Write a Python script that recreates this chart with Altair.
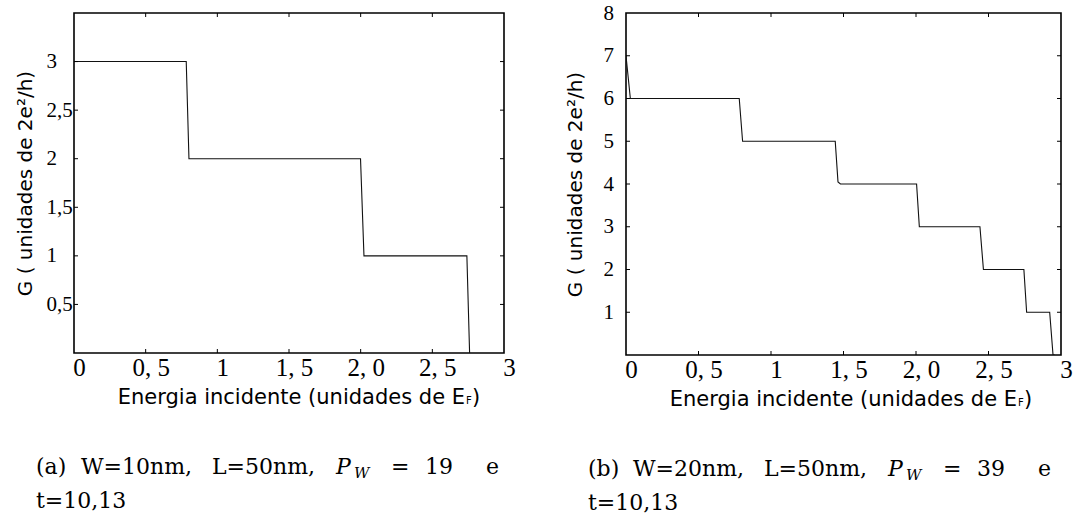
import altair as alt
import pandas as pd

# ---------------- data ----------------
# panel (a): W=10nm
a_energy = [0.0, 0.783, 0.802, 1.999, 2.023, 2.741, 2.760]
a_G = [3, 3, 2, 2, 1, 1, 0]
# panel (b): W=20nm
b_energy = [0.0, 0.03, 0.781, 0.804, 1.443, 1.462, 1.479, 2.004, 2.023,
            2.441, 2.465, 2.744, 2.763, 2.922, 2.945, 2.957]
b_G = [7, 6, 6, 5, 5, 4.05, 4, 4, 3, 3, 2, 2, 1, 1, 0, 0]

x_ticks = [0, 0.5, 1, 1.5, 2, 2.5, 3]
x_tick_labels = ["0", "0, 5", "1", "1, 5", "2, 0", "2, 5", "3"]
a_y_ticks = [0.5, 1, 1.5, 2, 2.5, 3]
a_y_tick_labels = ["0,5", "1", "1,5", "2", "2,5", "3"]
b_y_ticks = [1, 2, 3, 4, 5, 6, 7, 8]
b_y_tick_labels = ["1", "2", "3", "4", "5", "6", "7", "8"]

y_title = "G ( unidades de 2e\u00b2/h)"
x_title_main = "Energia incidente (unidades de E"
x_title_sub = "F"
x_title_end = ")"

cap_a = ["(a)", "W=10nm,", "L=50nm,", "P", "W", "=", "19", "e"]
cap_b = ["(b)", "W=20nm,", "L=50nm,", "P", "W", "=", "39", "e"]
cap_line2 = "t=10,13"

SERIF = "Liberation Serif"
SANS = "DejaVu Sans"
CAPF = "DejaVu Serif"


def label_expr(vals, labels):
    expr = "''"
    for v, l in reversed(list(zip(vals, labels))):
        expr = f"datum.value == {v} ? '{l}' : ({expr})"
    return expr


def txt(s, x, y, size, font, style="normal", align="left", baseline="alphabetic"):
    return alt.Chart(alt.Data(values=[{}])).mark_text(
        text=s, font=font, fontSize=size, fontStyle=style, align=align,
        baseline=baseline, color="black"
    ).encode(x=alt.value(x), y=alt.value(y))


def panel(energy, G, ydom, yticks, ylabels, W, H, lab_pad, title_x, caption):
    df = pd.DataFrame({"E": energy, "G": G})
    xenc = alt.X("E:Q", scale=alt.Scale(domain=[0, 3], nice=False, zero=False),
                 axis=alt.Axis(values=x_ticks, labelExpr=label_expr(x_ticks, x_tick_labels),
                               labelFont=SERIF, labelFontSize=25, labelColor="black",
                               labelFlush=False, labelOverlap=False, labelOffset=5,
                               labelPadding=2, ticks=False, tickSize=0, domain=False,
                               grid=False, title=None))
    yenc = alt.Y("G:Q", scale=alt.Scale(domain=ydom, nice=False, zero=False),
                 axis=alt.Axis(values=yticks, labelExpr=label_expr(yticks, ylabels),
                               labelFont=SERIF, labelFontSize=21, labelColor="black",
                               labelAlign="left", labelBaseline="middle",
                               labelPadding=lab_pad, labelOverlap=False, labelFlush=False,
                               ticks=False, tickSize=0, domain=False, grid=False,
                               title=y_title, titleFont=SANS, titleFontSize=20,
                               titleFontWeight="normal", titleColor="black",
                               titleAngle=270, titleAlign="center", titleBaseline="middle",
                               titleX=title_x, titleY=H / 2))
    line = alt.Chart(df).mark_line(color="#111111", strokeWidth=1.1, interpolate="linear",
                                   clip=True).encode(x=xenc, y=yenc, order=alt.Order("E:Q"))

    inner_x = pd.DataFrame({"E": x_ticks[1:-1]})
    inner_y = pd.DataFrame({"G": [v for v in yticks if v < ydom[1]]})
    tb = alt.Chart(inner_x).mark_rule(color="black", strokeWidth=1)
    lr = alt.Chart(inner_y).mark_rule(color="black", strokeWidth=1)
    ticks = [
        tb.encode(x=xenc, y=alt.value(H), y2=alt.value(H - 4)),
        tb.encode(x=xenc, y=alt.value(0), y2=alt.value(4)),
        lr.encode(y=yenc, x=alt.value(0), x2=alt.value(4)),
        lr.encode(y=yenc, x=alt.value(W), x2=alt.value(W - 4)),
    ]

    xt = [
        txt(x_title_main, 391, H + 51, 21, SANS, align="right"),
        txt(x_title_sub, 392, H + 51, 10, SANS),
        txt(x_title_end, 398, H + 51, 21, SANS),
    ]

    b1 = H + 121
    caps = [
        txt(caption[0], -38, b1, 22, CAPF),
        txt(caption[1], 7, b1, 22, CAPF),
        txt(caption[2], 138, b1, 22, CAPF),
        txt(caption[3], 262, b1, 22, CAPF, style="italic"),
        txt(caption[4], 280, b1 + 4, 15, CAPF, style="italic"),
        txt(caption[5], 317, b1, 22, CAPF),
        txt(caption[6], 351, b1, 22, CAPF),
        txt(caption[7], 412, b1, 22, CAPF),
        txt(cap_line2, -38, H + 155, 22, CAPF),
    ]

    return alt.layer(line, *ticks, *xt, *caps).properties(width=W, height=H)


left = panel(a_energy, a_G, [0, 3.5], a_y_ticks, a_y_tick_labels, 430, 340, 28, -49, cap_a)
right = panel(b_energy, b_G, [0, 8], b_y_ticks, b_y_tick_labels, 435, 342, 23, -51, cap_b)

chart = alt.hconcat(left, right, spacing=47).properties(
    padding={"left": 14, "top": 1, "right": 0, "bottom": 0},
    background="white",
).configure_view(stroke="black", strokeWidth=1.6)

chart.save("out.html", embed_options={"renderer": "svg", "actions": False})
